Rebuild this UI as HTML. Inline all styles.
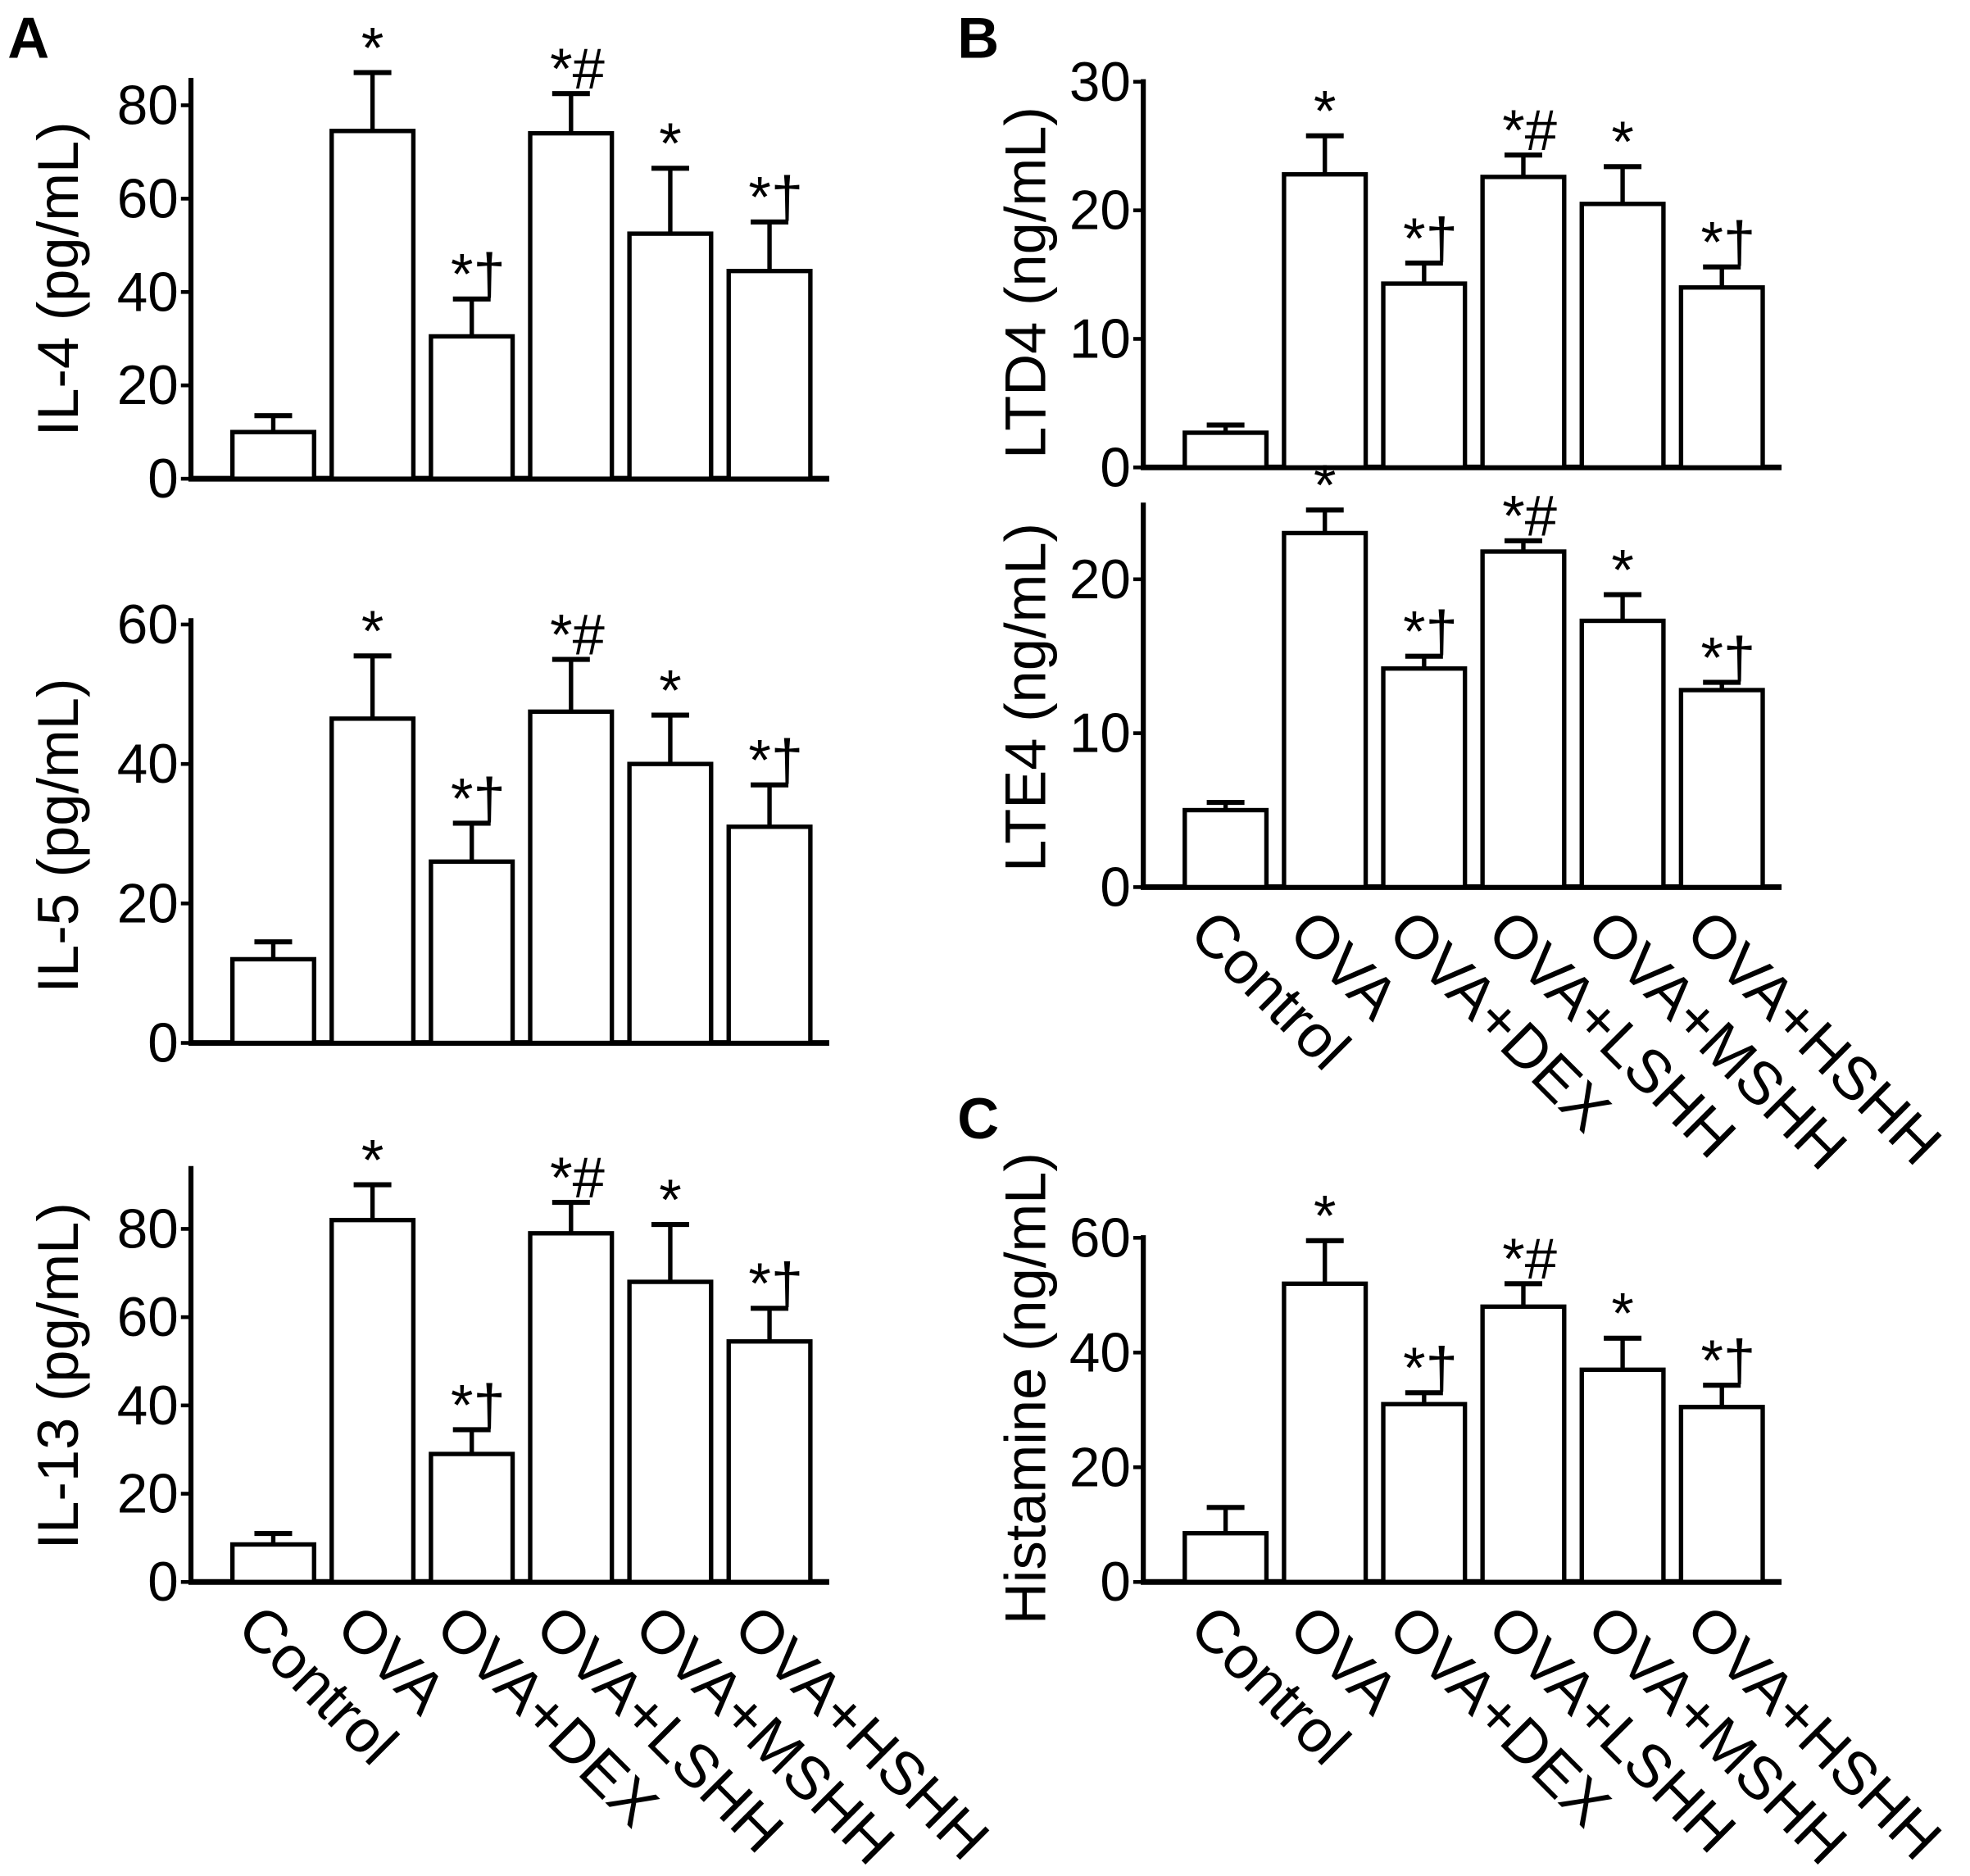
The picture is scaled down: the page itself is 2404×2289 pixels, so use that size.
<!DOCTYPE html>
<html><head><meta charset="utf-8">
<style>
html,body{margin:0;padding:0;background:#fff;}
svg{display:block;}
text{font-family:"Liberation Sans",Arial,sans-serif;fill:#000;}
</style></head>
<body>
<svg id="fig" xmlns="http://www.w3.org/2000/svg" width="2404" height="2289" viewBox="0 0 1568 1493" preserveAspectRatio="none">
<rect width="1568" height="1493" fill="#fff"/>
<text x="6" y="46" font-size="46" font-weight="bold">A</text>
<text x="762" y="46" font-size="46" font-weight="bold">B</text>
<text x="762" y="906" font-size="46" font-weight="bold">C</text>
</svg>
<script>
const categories = ["Control","OVA","OVA+DEX","OVA+LSHH","OVA+MSHH","OVA+HSHH"];
const marks = ["","*","*\u2020","*#","*","*\u2020"];
const il4Values = [10,74.5,30.5,74,52.5,44.5];
const il4Errors = [3.5,12.5,8,8.5,14,10.5];
const il4Ticks = [0,20,40,60,80];
const il5Values = [12,46.5,26,47.5,40,31];
const il5Errors = [2.5,9,5.5,7.5,7,6];
const il5Ticks = [0,20,40,60];
const il13Values = [8.5,82,29,79,68,54.5];
const il13Errors = [2.5,8,5.5,7,13,7.5];
const il13Ticks = [0,20,40,60,80];
const ltd4Values = [2.7,22.8,14.3,22.6,20.5,14];
const ltd4Errors = [0.6,3,1.6,1.7,2.9,1.6];
const ltd4Ticks = [0,10,20,30];
const lte4Values = [5,23,14.2,21.8,17.3,12.8];
const lte4Errors = [0.5,1.5,0.8,0.7,1.7,0.5];
const lte4Ticks = [0,10,20];
const histValues = [8.5,52,31,48,37,30.5];
const histErrors = [4.5,7.5,2,4,5.5,3.8];
const histTicks = [0,20,40,60];

const NS="http://www.w3.org/2000/svg";
const svg=document.getElementById('fig');
function mk(tag,attrs,parent){const e=document.createElementNS(NS,tag);for(const k in attrs)e.setAttribute(k,attrs[k]);(parent||svg).appendChild(e);return e;}

function panel(cfg){
  const g=mk('g',{});
  
  
  const ax=cfg.axisX, y0=cfg.y0, ppu=cfg.ppu;
  const yS=v=>y0-v*ppu;
  const step=79, bw=65, first=ax+33;
  const ya=mk('line',{x1:ax,y1:cfg.axisTop,x2:ax,y2:y0+2,stroke:'#000','stroke-width':4},g);
  
  
  const xa=mk('line',{x1:ax-2,y1:y0,x2:ax+508,y2:y0,stroke:'#000','stroke-width':4.5},g);
  
  
  cfg.ticks.forEach(t=>{
    const ty=yS(t);
    const tl=mk('line',{x1:ax-8,y1:ty,x2:ax,y2:ty,stroke:'#000','stroke-width':3},g);
    
    
    const tt=mk('text',{x:ax-10,y:ty+15,'font-size':44,'text-anchor':'end'},g);
    tt.textContent=t;
    
    
  });
  const tt=mk('text',{x:0,y:0,'font-size':46,'text-anchor':'middle',transform:`translate(${cfg.titleX},${cfg.titleY}) rotate(-90)`},g);
  tt.textContent=cfg.title;
  
  
  cfg.values.forEach((v,i)=>{
    const x=first+i*step, cx=x+bw/2, top=yS(v), et=yS(v+cfg.errors[i]);
    const el=mk('line',{x1:cx,y1:top,x2:cx,y2:et,stroke:'#000','stroke-width':3.5},g);
    
    
    const cap=mk('line',{x1:cx-15,y1:et,x2:cx+15,y2:et,stroke:'#000','stroke-width':4},g);
    
    
    const r=mk('rect',{x:x,y:top,width:bw,height:y0-top,fill:'#fff',stroke:'#000','stroke-width':3.5},g);
    
    
    if(marks[i]){
      const m=mk('text',{x:cx+(marks[i].length>1?5:0),y:et-4,'font-size':46,'text-anchor':'middle'},g);
      m.textContent=marks[i];
      
      
    }
    if(cfg.xlabels){
      const lx=cx-6, ly=y0+14;
      const l=mk('text',{x:0,y:0,'font-size':48,'dominant-baseline':'hanging',transform:`translate(${lx},${ly}) rotate(45)`},g);
      l.textContent=categories[i];
      
      
    }
  });
}
panel({name:'il4-chart',axisX:152,y0:381,ppu:74.3/20,axisTop:62,ticks:il4Ticks,values:il4Values,errors:il4Errors,title:'IL-4 (pg/mL)',titleX:62,titleY:222});
panel({name:'il5-chart',axisX:152,y0:830,ppu:111/20,axisTop:492,ticks:il5Ticks,values:il5Values,errors:il5Errors,title:'IL-5 (pg/mL)',titleX:62,titleY:665});
panel({name:'il13-chart',axisX:152,y0:1259,ppu:70.25/20,axisTop:928,ticks:il13Ticks,values:il13Values,errors:il13Errors,title:'IL-13 (pg/mL)',titleX:62,titleY:1095,xlabels:true});
panel({name:'ltd4-chart',axisX:910,y0:372,ppu:102.3/10,axisTop:63,ticks:ltd4Ticks,values:ltd4Values,errors:ltd4Errors,title:'LTD4 (ng/mL)',titleX:832,titleY:225});
panel({name:'lte4-chart',axisX:910,y0:706,ppu:122.5/10,axisTop:400,ticks:lte4Ticks,values:lte4Values,errors:lte4Errors,title:'LTE4 (ng/mL)',titleX:832,titleY:555,xlabels:true});
panel({name:'histamine-chart',axisX:910,y0:1259,ppu:91.3/20,axisTop:983,ticks:histTicks,values:histValues,errors:histErrors,title:'Histamine (ng/mL)',titleX:832,titleY:1105,xlabels:true});
</script>
</body></html>
